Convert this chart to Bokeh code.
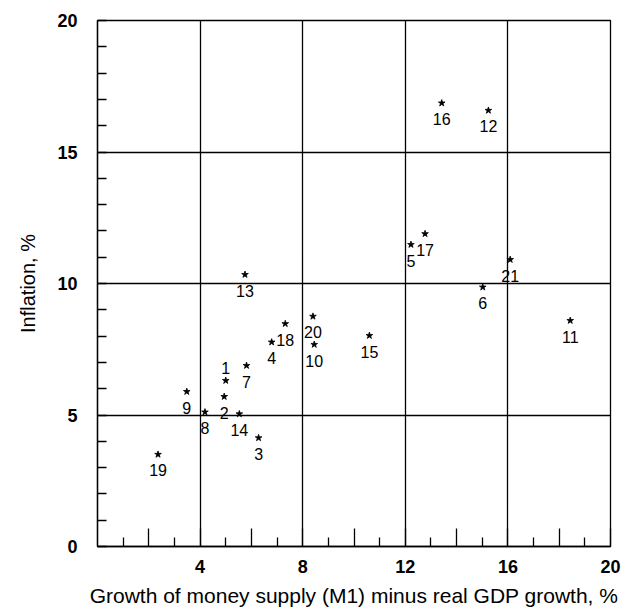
from bokeh.plotting import figure
from bokeh.models import ColumnDataSource, FixedTicker
from bokeh.core.properties import value
from bokeh.embed import file_html
from bokeh.resources import INLINE

# ---- data ----
ids = ["1", "2", "3", "4", "5", "6", "7", "8", "9", "10", "11",
       "12", "13", "14", "15", "16", "17", "18", "19", "20", "21"]
money_growth = [5.00, 4.94, 6.28, 6.79, 12.22, 15.02, 5.81, 4.19, 3.48, 8.45, 18.43,
                15.24, 5.75, 5.53, 10.60, 13.42, 12.77, 7.32, 2.36, 8.40, 16.09]
inflation = [6.31, 5.70, 4.13, 7.77, 11.48, 9.86, 6.88, 5.11, 5.89, 7.68, 8.59,
             16.58, 10.34, 5.04, 8.02, 16.86, 11.89, 8.47, 3.50, 8.75, 10.91]

x_major = [2, 4, 6, 8, 10, 12, 14, 16, 18, 20]
x_labelled = [4, 8, 12, 16, 20]
x_minor = [1, 3, 5, 7, 9, 11, 13, 15, 17, 19]
x_grid = [4, 8, 12, 16]
y_major = [0, 5, 10, 15, 20]
y_minor = [i for i in range(1, 20) if i % 5 != 0]
y_grid = [5, 10, 15]

x_title = "Growth of money supply (M1) minus real GDP growth, %"
y_title = "Inflation, %"

# labels placed above their marker (all others below)
LABEL_ABOVE = {"1"}

FONT = "Liberation Sans"

offsets = [-13 if i in LABEL_ABOVE else 16 for i in ids]
src = ColumnDataSource(dict(x=money_growth, y=inflation, label=ids, yoff=offsets))

p = figure(frame_width=513, frame_height=526,
           x_range=(0, 20), y_range=(0, 20),
           output_backend="svg", toolbar_location=None,
           min_border_left=97, min_border_right=23,
           min_border_top=20, min_border_bottom=69,
           background_fill_color="white", border_fill_color="white")

p.outline_line_color = "black"
p.outline_line_width = 1.3

# x axis
xa = p.xaxis[0]
xa.ticker = FixedTicker(ticks=x_major, minor_ticks=x_minor)
xa.major_label_overrides = {t: (str(t) if t in x_labelled else "") for t in x_major}
xa.major_tick_in = 18
xa.major_tick_out = 0
xa.minor_tick_in = 9
xa.minor_tick_out = 0
xa.axis_line_color = "black"
xa.axis_line_width = 1.3
xa.major_tick_line_color = "black"
xa.major_tick_line_width = 1.3
xa.minor_tick_line_color = "black"
xa.minor_tick_line_width = 1.3
xa.major_label_text_font = FONT
xa.major_label_text_font_size = "18px"
xa.major_label_text_font_style = "bold"
xa.major_label_text_color = "black"
xa.major_label_standoff = 13
xa.axis_label = x_title
xa.axis_label_text_font = FONT
xa.axis_label_text_font_size = "21px"
xa.axis_label_text_font_style = "normal"
xa.axis_label_text_color = "black"
xa.axis_label_standoff = 8

# y axis
ya = p.yaxis[0]
ya.ticker = FixedTicker(ticks=y_major, minor_ticks=y_minor)
ya.major_tick_in = 9
ya.major_tick_out = 0
ya.minor_tick_in = 9
ya.minor_tick_out = 0
ya.axis_line_color = "black"
ya.axis_line_width = 1.3
ya.major_tick_line_color = "black"
ya.major_tick_line_width = 1.3
ya.minor_tick_line_color = "black"
ya.minor_tick_line_width = 1.3
ya.major_label_text_font = FONT
ya.major_label_text_font_size = "18px"
ya.major_label_text_font_style = "bold"
ya.major_label_text_color = "black"
ya.major_label_standoff = 20
ya.axis_label = y_title
ya.axis_label_text_font = FONT
ya.axis_label_text_font_size = "20px"
ya.axis_label_text_font_style = "normal"
ya.axis_label_text_color = "black"
ya.axis_label_standoff = 15

# grid
p.xgrid.ticker = FixedTicker(ticks=x_grid)
p.ygrid.ticker = FixedTicker(ticks=y_grid)
for g in (p.xgrid, p.ygrid):
    g.grid_line_color = "black"
    g.grid_line_alpha = 1.0
    g.grid_line_width = 1.3

# points and labels
p.scatter("x", "y", source=src, marker="star", size=7,
          fill_color="black", line_color="black", line_width=0.8)
p.text("x", "y", text="label", source=src, y_offset="yoff",
       text_align="center", text_baseline="middle",
       text_font=value(FONT), text_font_size="16px", text_color="black")

open("out.html", "w").write(file_html(p, INLINE))
